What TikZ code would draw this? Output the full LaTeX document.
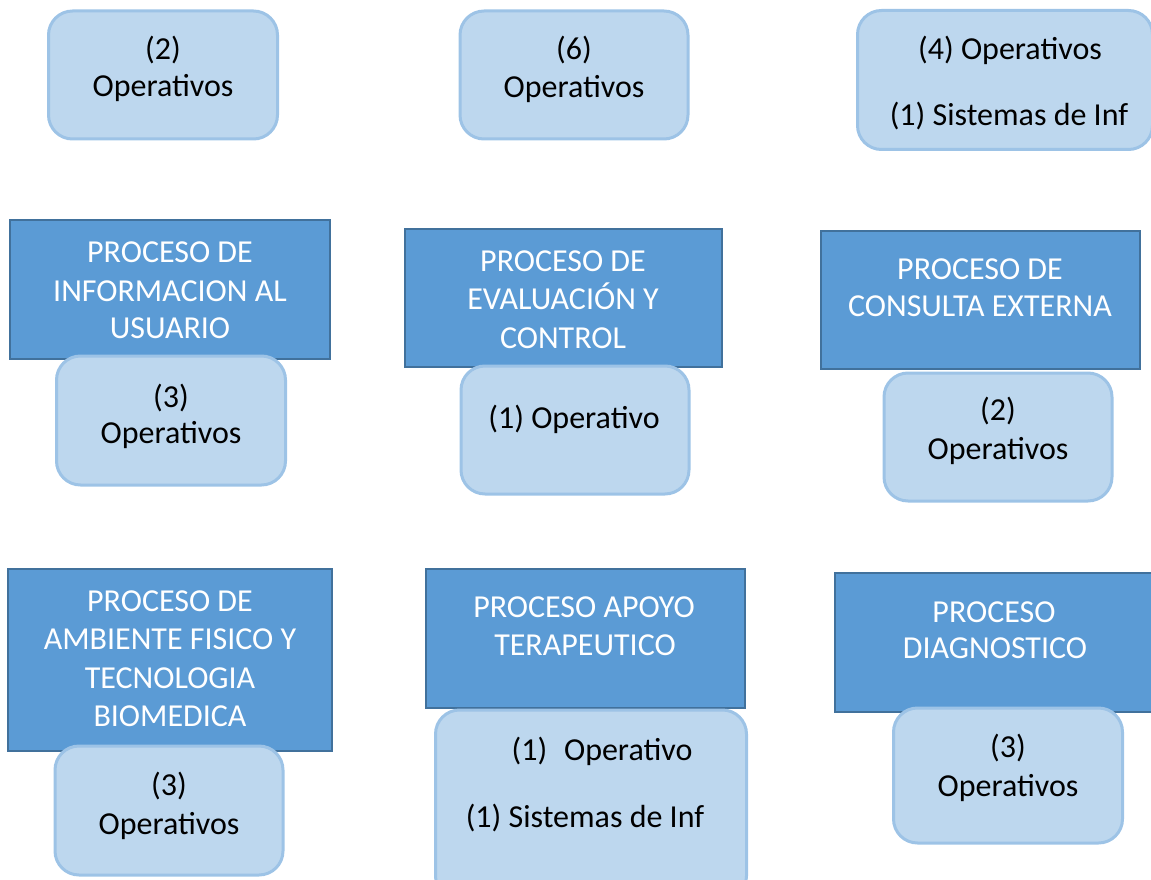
\documentclass[tikz,border=0pt]{standalone}
\usepackage{fontspec}
\setmainfont{Carlito}
\definecolor{darkfill}{HTML}{5B9BD5}
\definecolor{darkline}{HTML}{41719C}
\definecolor{lightfill}{HTML}{BDD7EE}
\definecolor{lightline}{HTML}{9DC3E6}
\tikzset{
  dbox/.style={draw=darkline, fill=darkfill, line width=2pt, inner sep=0pt},
  lbox/.style={draw=lightline, fill=lightfill, line width=3pt, rounded corners=24pt, inner sep=0pt},
  dtxt/.style={text=white, anchor=base, inner sep=0pt, font=\fontsize{32}{38}\selectfont},
  ltxt/.style={text=black, anchor=base, inner sep=0pt, font=\fontsize{32}{38}\selectfont}
}
\newcommand{\boxat}[6]{\node[#1, minimum width=#4pt, minimum height=#5pt] (#6) at (#2,#3) {};}
\begin{document}
\begin{tikzpicture}[x=1pt,y=-1pt]
\useasboundingbox (0,0) rectangle (1151,880);
\clip (0,0) rectangle (1151,880);
% top row
\boxat{lbox}{163}{75}{229}{128}{t1}
\node[ltxt] (t1a) at (163,60) {(2)};
\node[ltxt] (t1b) at (163,97) {Operativos};
\boxat{lbox}{574}{75}{228}{128}{t2}
\node[ltxt] (t2a) at (574,60) {(6)};
\node[ltxt] (t2b) at (574,98) {Operativos};
\boxat{lbox}{1005}{80}{295}{139}{t3}
\node[ltxt] (t3a) at (1010,60) {(4) Operativos};
\node[ltxt] (t3b) at (1009,126) {(1) Sistemas de Inf};
% middle row
\boxat{dbox}{169.5}{289.5}{320}{139}{pA}
\node[dtxt] (pA1) at (170,262) {PROCESO DE};
\node[dtxt] (pA2) at (170,301) {INFORMACION AL};
\node[dtxt] (pA3) at (170,338) {USUARIO};
\boxat{lbox}{171}{420.5}{229}{129}{oA}
\node[ltxt] (oA1) at (171,407) {(3)};
\node[ltxt] (oA2) at (171,443) {Operativos};
\boxat{dbox}{563.5}{298}{317}{138}{pB}
\node[dtxt] (pB1) at (563,271) {PROCESO DE};
\node[dtxt] (pB2) at (563,309) {EVALUACIÓN Y};
\node[dtxt] (pB3) at (563,348) {CONTROL};
\boxat{lbox}{575}{430}{228}{128}{oB}
\node[ltxt] (oB1) at (574,428) {(1) Operativo};
\boxat{dbox}{980.5}{300}{319}{138}{pC}
\node[dtxt] (pC1) at (980,279) {PROCESO DE};
\node[dtxt] (pC2) at (980,316) {CONSULTA EXTERNA};
\boxat{lbox}{998}{437}{228}{128}{oC}
\node[ltxt] (oC1) at (998,420) {(2)};
\node[ltxt] (oC2) at (998,459) {Operativos};
% bottom row
\boxat{dbox}{170}{660}{324}{182}{pD}
\node[dtxt] (pD1) at (170,611) {PROCESO DE};
\node[dtxt] (pD2) at (170,649) {AMBIENTE FISICO Y};
\node[dtxt] (pD3) at (170,688) {TECNOLOGIA};
\node[dtxt] (pD4) at (170,726) {BIOMEDICA};
\boxat{lbox}{169}{810.5}{228}{129}{oD}
\node[ltxt] (oD1) at (169,795) {(3)};
\node[ltxt] (oD2) at (169,834) {Operativos};
\boxat{dbox}{585}{638.5}{319}{139}{pE}
\node[dtxt] (pE1) at (584,617) {PROCESO APOYO};
\node[dtxt] (pE2) at (585,655) {TERAPEUTICO};
\boxat{lbox}{591}{805}{311}{190}{oE}
\node[ltxt] (oE1) at (602,760) {(1)\hspace{0.3em} Operativo};
\node[ltxt] (oE2) at (585,827) {(1) Sistemas de Inf};
\boxat{dbox}{1000}{642.5}{330}{139}{pF}
\node[dtxt] (pF1) at (994,622) {PROCESO};
\node[dtxt] (pF2) at (995,658) {DIAGNOSTICO};
\boxat{lbox}{1008}{775.5}{229}{135}{oF}
\node[ltxt] (oF1) at (1008,757) {(3)};
\node[ltxt] (oF2) at (1008,796) {Operativos};
\end{tikzpicture}
\end{document}
